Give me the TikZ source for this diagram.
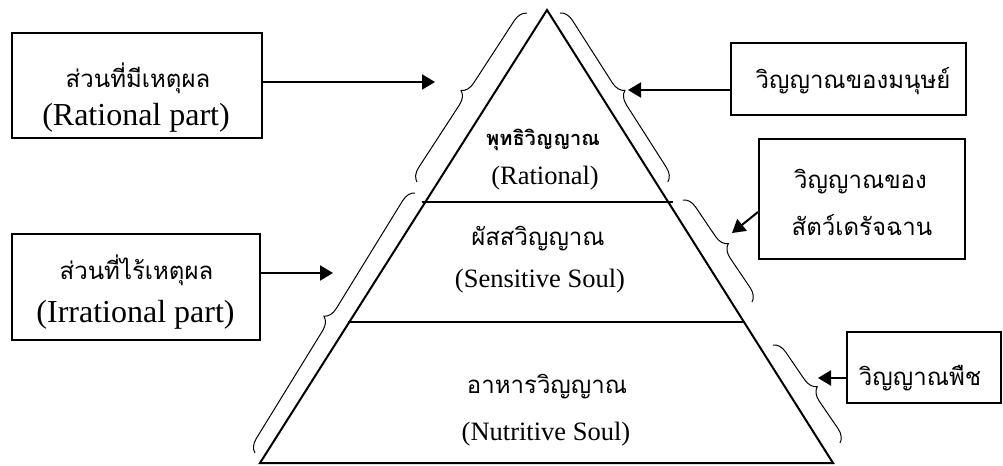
\documentclass[tikz,border=0pt]{standalone}
\usepackage{fontspec}
\setmainfont{Liberation Serif}
\newfontfamily\thaifont[Script=Thai]{Loma}
\usetikzlibrary{arrows.meta, decorations.pathreplacing}
\tikzstyle{box} = [draw, line width=1pt, inner sep=0pt]
\tikzstyle{arrow} = [line width=1pt, -{Triangle[length=6.5pt,width=7.5pt]}]
\tikzstyle{brace} = [decorate, decoration={brace,amplitude=6.5pt}, line width=0.5pt]
\tikzstyle{layer} = [line width=1pt]
\tikzstyle{thtext} = [anchor=base, inner sep=0pt, font=\thaifont\fontsize{12}{14}\selectfont]
\tikzstyle{boxtext} = [anchor=base, inner sep=0pt, font=\fontsize{16}{19}\selectfont]
\tikzstyle{soultext} = [anchor=base, inner sep=0pt, font=\fontsize{13.25}{16}\selectfont]

\begin{document}
\begin{tikzpicture}[x=0.5pt,y=-0.5pt]
\useasboundingbox (0,0) rectangle (1003,466);
% pyramid
\coordinate (apex) at (547,10);
\coordinate (baseL) at (260,463);
\coordinate (baseR) at (833,463);
\draw[layer,line join=miter] (baseL) -- (apex) -- (baseR) -- cycle;
\draw[layer] (422,202) -- (673,202);
\draw[layer] (348,322) -- (745,322);
% layer names
\node[thtext,font=\thaifont\bfseries\fontsize{10}{12}\selectfont] (ratTh) at (543,145) {พุทธิวิญญาณ};
\node[soultext] (ratEn) at (545,184) {(Rational)};
\node[thtext] (senTh) at (538,245) {ผัสสวิญญาณ};
\node[soultext] (senEn) at (540,287) {(Sensitive Soul)};
\node[thtext] (nutTh) at (547,393) {อาหารวิญญาณ};
\node[soultext] (nutEn) at (546,440) {(Nutritive Soul)};
% braces
\draw[brace] (417,182) -- (527,13);
\draw[brace] (560,13) -- (668,182);
\draw[brace] (255,453) -- (415,193);
\draw[brace] (683,200) -- (752,302);
\draw[brace] (773,345) -- (840,443);
% boxes
\node[box,minimum width=125pt,minimum height=52.5pt] (ratBox) at (137,85.5) {};
\node[thtext] (ratBoxTh) at (138,87) {ส่วนที่มีเหตุผล};
\node[boxtext] (ratBoxEn) at (136,125) {(Rational part)};
\node[box,minimum width=124pt,minimum height=53pt] (irrBox) at (136,287) {};
\node[thtext] (irrBoxTh) at (136.5,279) {ส่วนที่ไร้เหตุผล};
\node[boxtext] (irrBoxEn) at (135.5,322) {(Irrational part)};
\node[box,minimum width=117.5pt,minimum height=36pt] (humBox) at (848.5,79) {};
\node[thtext] (humTh) at (853,88) {วิญญาณของมนุษย์};
\node[box,minimum width=103pt,minimum height=60pt] (aniBox) at (862,199) {};
\node[thtext] (aniTh) at (860.5,188) {วิญญาณของ};
\node[thtext] (aniTh2) at (862,235) {สัตว์เดรัจฉาน};
\node[box,minimum width=77pt,minimum height=35.5pt] (plaBox) at (924,367.5) {};
\node[thtext] (plaTh) at (920,385) {วิญญาณพืช};
% arrows
\coordinate (ratTip) at (435,82);
\coordinate (humTip) at (628,90);
\coordinate (aniTip) at (732,233);
\coordinate (irrTip) at (333,273);
\coordinate (plaTip) at (818,378);
\draw[arrow] (ratBox.east |- ratTip) -- (ratTip);
\draw[arrow] (humBox.west |- humTip) -- (humTip);
\draw[arrow] ([yshift=-6.5pt]aniBox.west) -- (aniTip);
\draw[arrow] (irrBox.east |- irrTip) -- (irrTip);
\draw[arrow] (plaBox.west |- plaTip) -- (plaTip);
\end{tikzpicture}
\end{document}
